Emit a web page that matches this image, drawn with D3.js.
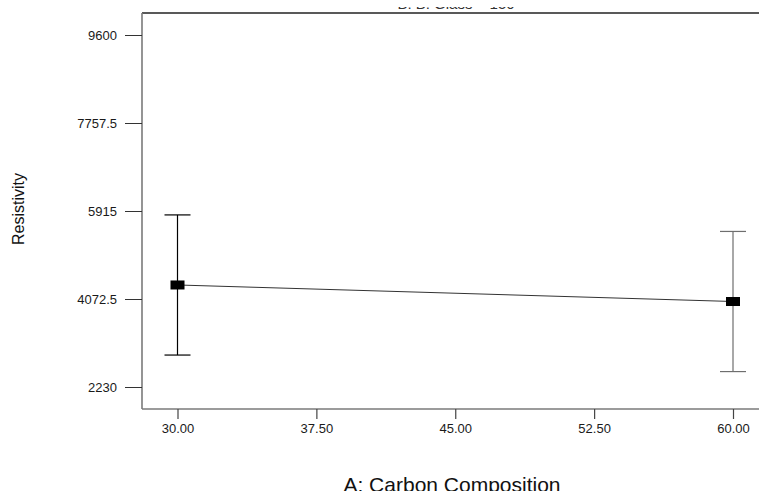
<!DOCTYPE html>
<html>
<head>
<meta charset="utf-8">
<script src="https://cdn.jsdelivr.net/npm/d3@7"></script>
<style>
  html, body { margin: 0; padding: 0; background: #fff; }
  svg { display: block; font-family: "Liberation Sans", Arial, sans-serif; }
</style>
</head>
<body>
<svg id="chart" width="759" height="491"></svg>
<script>
// ---- data ----
const xLevels = [30, 60];               // A: Carbon Composition
const means   = [4366, 4020];           // predicted Resistivity
const lowerCI = [2899, 2553];
const upperCI = [5833, 5487];
const yTicks  = [2230, 4072.5, 5915, 7757.5, 9600];
const xTicks  = [30, 37.5, 45, 52.5, 60];
const barColors = ["#000000", "#6e6e6e"];
const titleText = "B: B: Glass = 150";
const xTitle = "A: Carbon Composition";
const yTitle = "Resistivity";

// ---- layout ----
const svg = d3.select("#chart");
const frame = { left: 142, right: 762, top: 13, bottom: 409 };

const x = d3.scaleLinear().domain([30, 60]).range([177.5, 733]);
const y = d3.scaleLinear().domain([1769.375, 10060.625]).range([frame.bottom, frame.top]);

// title (cropped at top, only the bottom edge of the glyphs shows)
svg.append("text")
  .attr("x", 456).attr("y", 9)
  .attr("text-anchor", "middle")
  .attr("font-size", 15).attr("fill", "#333")
  .text(titleText);
svg.append("rect").attr("x", 0).attr("y", 0).attr("width", 759).attr("height", 7).attr("fill", "#fff");

// frame
svg.append("line").attr("x1", frame.left).attr("x2", frame.right)
  .attr("y1", frame.top).attr("y2", frame.top)
  .attr("stroke", "#222").attr("stroke-width", 1.4);
svg.append("line").attr("x1", frame.left).attr("x2", frame.left)
  .attr("y1", frame.top).attr("y2", frame.bottom)
  .attr("stroke", "#7a7a7a").attr("stroke-width", 1.6);
svg.append("line").attr("x1", frame.left).attr("x2", frame.right)
  .attr("y1", frame.bottom).attr("y2", frame.bottom)
  .attr("stroke", "#7a7a7a").attr("stroke-width", 1.6);

// y axis
const yAxis = svg.append("g")
  .attr("transform", `translate(${frame.left},0)`)
  .call(d3.axisLeft(y).tickValues(yTicks).tickFormat(d => String(d))
        .tickSize(17).tickSizeOuter(0).tickPadding(8));
yAxis.select(".domain").remove();
yAxis.selectAll(".tick line").attr("stroke", "#333").attr("stroke-width", 1);
yAxis.selectAll(".tick text").attr("font-size", 13).attr("fill", "#1a1a1a")
  .attr("font-family", "Liberation Sans, Arial, sans-serif");

// x axis
const xAxis = svg.append("g")
  .attr("transform", `translate(0,${frame.bottom})`)
  .call(d3.axisBottom(x).tickValues(xTicks).tickFormat(d => d.toFixed(2))
        .tickSize(10).tickSizeOuter(0).tickPadding(5));
xAxis.select(".domain").remove();
xAxis.selectAll(".tick line").attr("stroke", "#444").attr("stroke-width", 1.2);
xAxis.selectAll(".tick text").attr("font-size", 13).attr("fill", "#1a1a1a")
  .attr("font-family", "Liberation Sans, Arial, sans-serif");

// connecting line
svg.append("path")
  .datum(xLevels.map((v, i) => [v, means[i]]))
  .attr("d", d3.line().x(d => x(d[0])).y(d => y(d[1])))
  .attr("fill", "none").attr("stroke", "#333").attr("stroke-width", 1);

// error bars
const capW = 13;
xLevels.forEach((v, i) => {
  const g = svg.append("g").attr("stroke", barColors[i]).attr("stroke-width", 1.2);
  g.append("line").attr("x1", x(v)).attr("x2", x(v)).attr("y1", y(lowerCI[i])).attr("y2", y(upperCI[i]));
  g.append("line").attr("x1", x(v) - capW).attr("x2", x(v) + capW).attr("y1", y(upperCI[i])).attr("y2", y(upperCI[i]));
  g.append("line").attr("x1", x(v) - capW).attr("x2", x(v) + capW).attr("y1", y(lowerCI[i])).attr("y2", y(lowerCI[i]));
});

// markers
svg.selectAll("rect.marker")
  .data(xLevels.map((v, i) => [v, means[i]]))
  .enter().append("rect").attr("class", "marker")
  .attr("x", d => x(d[0]) - 7).attr("y", d => y(d[1]) - 4.5)
  .attr("width", 14).attr("height", 9)
  .attr("fill", "#000");

// axis titles
svg.append("text")
  .attr("transform", "translate(24,209) rotate(-90)")
  .attr("text-anchor", "middle")
  .attr("font-size", 16).attr("fill", "#111")
  .text(yTitle);
svg.append("text")
  .attr("x", 452).attr("y", 492)
  .attr("text-anchor", "middle")
  .attr("font-size", 21).attr("fill", "#111")
  .text(xTitle);
</script>
</body>
</html>
